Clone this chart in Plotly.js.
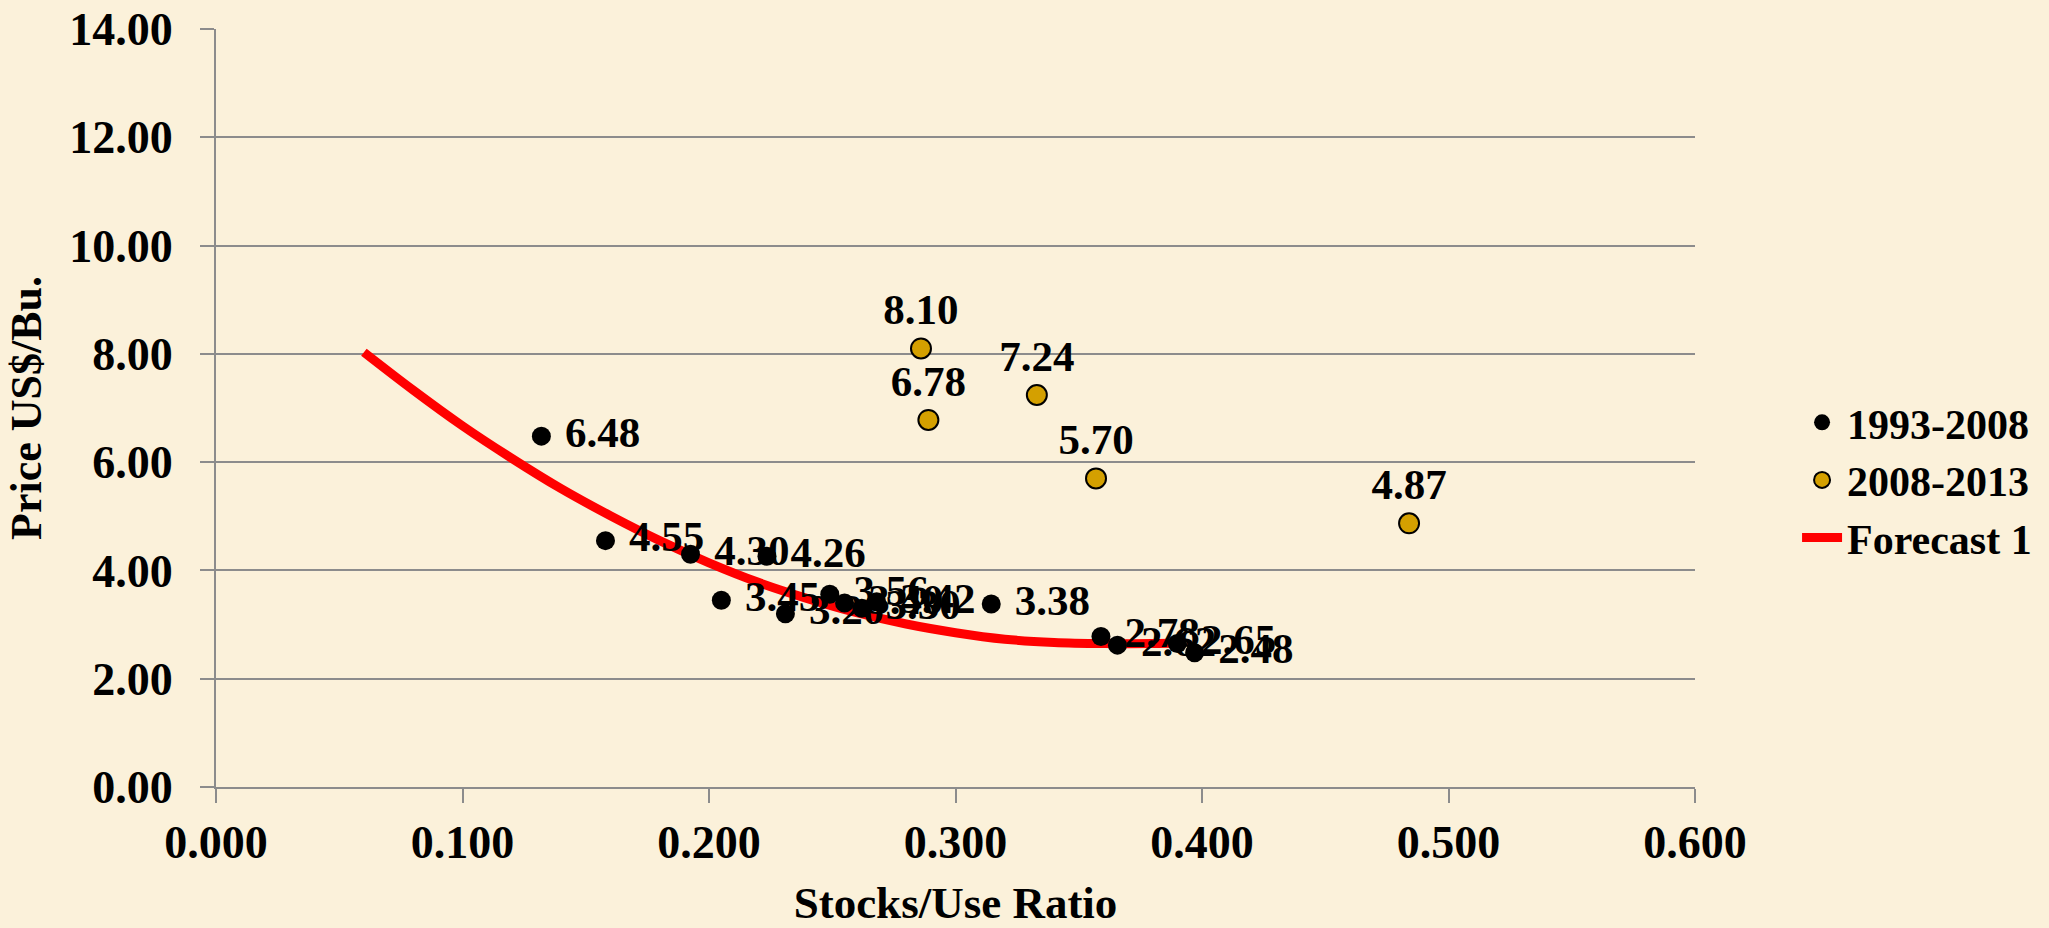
<!DOCTYPE html>
<html>
<head>
<meta charset="utf-8">
<script src="https://cdn.plot.ly/plotly-3.0.1.min.js"></script>
<style>
  html, body { margin: 0; padding: 0; background: #FBF1DA; }
  #chart { width: 2049px; height: 928px; }
</style>
</head>
<body>
<div id="chart"></div>
<script>
// Series 1993-2008 (stocks/use ratio, price US$/Bu.)
const blackX = [0.132, 0.158, 0.1925, 0.2235, 0.205, 0.231, 0.249, 0.255, 0.262, 0.268, 0.3145, 0.359, 0.3657, 0.390, 0.397];
const blackY = [6.48, 4.55, 4.30, 4.26, 3.45, 3.20, 3.56, 3.40, 3.30, 3.42, 3.38, 2.78, 2.62, 2.65, 2.48];
// Series 2008-2013
const goldX = [0.286, 0.289, 0.333, 0.357, 0.484];
const goldY = [8.10, 6.78, 7.24, 5.70, 4.87];
// Forecast 1 curve
const forecastX = [0.060, 0.080, 0.100, 0.120, 0.140, 0.160, 0.180, 0.200, 0.220, 0.240, 0.260, 0.280, 0.300, 0.320, 0.340, 0.360, 0.380, 0.390];
const forecastY = [8.03, 7.33, 6.67, 6.07, 5.51, 5.01, 4.55, 4.14, 3.78, 3.48, 3.22, 3.01, 2.85, 2.73, 2.67, 2.65, 2.65, 2.66];
// Axis ticks
const xTicks = [0, 0.1, 0.2, 0.3, 0.4, 0.5, 0.6];
const yTicks = [0, 2, 4, 6, 8, 10, 12, 14];

const FONT = 'Liberation Serif, Times New Roman, serif';

const traces = [
  {
    x: forecastX, y: forecastY, type: 'scatter', mode: 'lines',
    name: 'Forecast 1', legendrank: 3,
    line: { color: '#FF0000', width: 9, shape: 'spline' },
    hoverinfo: 'skip'
  },
  {
    x: blackX, y: blackY, type: 'scatter', mode: 'markers+text',
    name: '1993-2008', legendrank: 1,
    marker: { color: '#000000', size: 19 },
    texttemplate: '\u00a0%{y:.2f}', textposition: 'middle right',
    textfont: { family: FONT, size: 43, color: '#000000', weight: 'bold' }
  },
  {
    x: goldX, y: goldY, type: 'scatter', mode: 'markers+text',
    name: '2008-2013', legendrank: 2,
    marker: { color: '#D4A000', size: 20, line: { color: '#000000', width: 2 } },
    texttemplate: '%{y:.2f}', textposition: 'top center',
    textfont: { family: FONT, size: 43, color: '#000000', weight: 'bold' }
  }
];

const layout = {
  width: 2049, height: 928,
  paper_bgcolor: '#FBF1DA', plot_bgcolor: '#FBF1DA',
  margin: { l: 216, r: 350, t: 29, b: 141 },
  font: { family: FONT, color: '#000000', size: 44, weight: 'bold' },
  showlegend: true,
  legend: {
    x: 1.069, xanchor: 'left', y: 0.405, yanchor: 'middle',
    bgcolor: 'rgba(0,0,0,0)',
    font: { family: FONT, size: 42, color: '#000000', weight: 'bold' },
    tracegroupgap: 0, itemwidth: 40
  },
  xaxis: {
    range: [0, 0.6], tickvals: xTicks, tickformat: '.3f',
    showgrid: false, zeroline: false,
    showline: true, linecolor: '#8C8C8C', linewidth: 2,
    ticks: 'outside', ticklen: 14, tickcolor: '#8C8C8C', tickwidth: 2,
    ticklabelstandoff: 0,
    tickfont: { family: FONT, size: 46, color: '#000000', weight: 'bold' },
    title: { text: 'Stocks/Use Ratio', standoff: 34,
             font: { family: FONT, size: 45, color: '#000000', weight: 'bold' } },
    automargin: false, fixedrange: true
  },
  yaxis: {
    range: [0, 14], tickvals: yTicks, tickformat: '.2f',
    showgrid: true, gridcolor: '#8C8C8C', gridwidth: 2,
    zeroline: false,
    showline: true, linecolor: '#8C8C8C', linewidth: 2,
    ticks: 'outside', ticklen: 14, tickcolor: '#8C8C8C', tickwidth: 2,
    ticklabelstandoff: 18,
    tickfont: { family: FONT, size: 46, color: '#000000', weight: 'bold' },
    title: { text: 'Price US$/Bu.', standoff: 14,
             font: { family: FONT, size: 44, color: '#000000', weight: 'bold' } },
    automargin: false, fixedrange: true
  },
  hovermode: false
};

Plotly.newPlot('chart', traces, layout, { displayModeBar: false, staticPlot: true });
</script>
</body>
</html>
